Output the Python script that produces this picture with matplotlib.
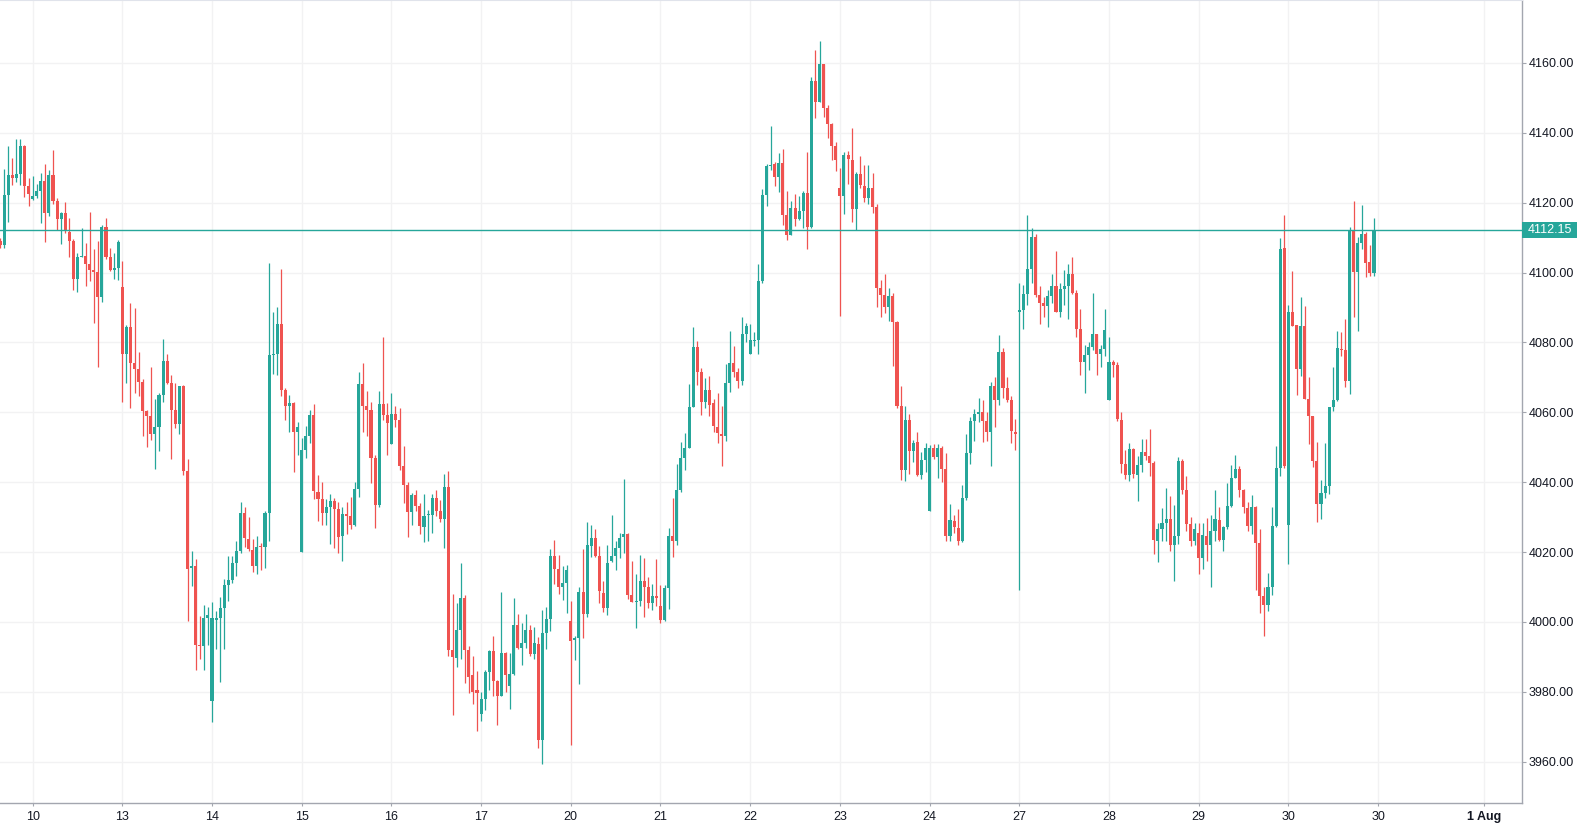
import matplotlib
matplotlib.use("Agg")
import matplotlib.pyplot as plt
import matplotlib.transforms as mtransforms
from matplotlib.patches import Rectangle
import numpy as np

# hourly candles, 22 per session
opens = [
    4109.0, 4108.0, 4122.2, 4127.9, 4127.2, 4128.2, 4136.2, 4124.8, 4121.0, 4121.9,
    4123.4, 4126.2, 4117.1, 4127.9, 4120.4, 4115.3, 4117.0, 4111.5, 4109.0, 4098.2,
    4104.5, 4104.8, 4102.4, 4100.7, 4100.1, 4093.1, 4113.0, 4104.4, 4100.8, 4101.3,
    4095.8, 4076.6, 4084.3, 4074.1, 4072.3, 4068.6, 4060.5, 4059.0, 4053.8, 4055.7,
    4064.9, 4074.6, 4068.4, 4060.6, 4056.7, 4067.4, 4043.2, 4015.4, 4015.9, 3993.3,
    3993.1, 4001.2, 3977.4, 4000.6, 4001.0, 4004.0, 4010.5, 4012.1, 4016.8, 4020.4,
    4031.3, 4023.8, 4020.7, 4015.9, 4021.7, 4021.6, 4031.1, 4076.3, 4076.6, 4085.2,
    4066.3, 4061.8, 4062.8, 4054.3, 4019.9, 4049.1, 4053.1, 4059.1, 4037.1, 4035.1,
    4031.1, 4033.0, 4034.5, 4032.2, 4024.5, 4031.0, 4030.2, 4027.9, 4038.2, 4068.0,
    4061.8, 4060.6, 4046.8, 4033.6, 4062.3, 4059.1, 4050.8, 4059.4, 4057.9, 4044.6,
    4039.1, 4031.4, 4036.2, 4033.1, 4027.1, 4030.5, 4030.5, 4035.4, 4031.7, 4029.4,
    4038.5, 3992.1, 3989.8, 3997.8, 4007.0, 3992.1, 3984.7, 3980.4, 3973.8, 3978.1,
    3985.8, 3991.7, 3983.1, 3978.9, 3991.2, 3981.8, 3985.0, 3999.2, 3992.7, 3994.1,
    3997.8, 3990.7, 3993.8, 3966.1, 3996.9, 4000.9, 4019.0, 4015.1, 4010.1, 4011.3,
    4000.4, 3994.9, 3995.3, 4008.7, 4002.2, 4021.7, 4023.9, 4019.0, 4008.4, 4003.9,
    4017.4, 4019.0, 4021.3, 4024.2, 4025.3, 4007.8, 4005.6, 4006.1, 4011.8, 4009.9,
    4005.3, 4007.3, 4004.7, 4000.5, 4009.8, 4024.7, 4023.1, 4037.9, 4046.8, 4049.7,
    4061.4, 4078.6, 4071.4, 4062.9, 4066.5, 4062.7, 4055.9, 4053.8, 4053.1, 4068.4,
    4074.1, 4071.5, 4068.9, 4082.3, 4076.6, 4080.4, 4080.6, 4097.6, 4122.1, 4130.5,
    4131.1, 4127.4, 4131.3, 4116.5, 4110.8, 4118.4, 4115.3, 4117.5, 4122.7, 4113.1,
    4154.8, 4148.9, 4159.7, 4147.0, 4142.5, 4136.2, 4124.1, 4121.8, 4133.6, 4132.2,
    4118.1, 4128.1, 4124.7, 4121.4, 4124.1, 4118.8, 4095.6, 4093.5, 4090.1, 4093.2,
    4085.8, 4061.7, 4043.4, 4057.9, 4048.9, 4051.6, 4042.0, 4046.3, 4031.9, 4049.7,
    4047.1, 4049.7, 4043.7, 4024.5, 4029.0, 4027.0, 4023.1, 4035.6, 4048.5, 4057.6,
    4059.6, 4060.0, 4057.6, 4054.3, 4067.4, 4063.5, 4077.4, 4067.1, 4063.5, 4054.5,
    4088.7, 4089.4, 4094.0, 4100.9, 4110.2, 4093.5, 4091.3, 4090.4, 4093.2, 4096.1,
    4088.7, 4095.2, 4096.1, 4099.5, 4094.1, 4083.8, 4074.4, 4076.3, 4078.6, 4082.3,
    4076.7, 4078.0, 4063.5, 4074.3, 4073.5, 4057.7, 4045.2, 4042.0, 4049.4, 4042.0,
    4044.9, 4048.6, 4047.4, 4045.4, 4023.1, 4026.5, 4028.2, 4029.4, 4021.9, 4024.5,
    4046.0, 4037.7, 4028.0, 4023.1, 4025.4, 4018.2, 4024.7, 4021.9, 4025.9, 4029.3,
    4023.6, 4027.3, 4033.1, 4041.1, 4043.7, 4037.7, 4032.5, 4027.4, 4032.8, 4022.6,
    4007.4, 4004.8, 4010.0, 4027.4, 4044.2, 4107.0, 4027.7, 4088.6, 4084.9, 4072.4,
    4084.6, 4063.7, 4058.9, 4046.0, 4033.7, 4036.8, 4038.8, 4061.4, 4063.4, 4078.0,
    4077.8, 4069.0, 4112.2, 4100.2, 4108.5, 4111.0, 4103.1, 4099.9,
]
highs = [
    4110.0, 4129.6, 4136.2, 4132.8, 4138.1, 4138.1, 4136.5, 4127.1, 4127.6, 4125.3,
    4128.5, 4131.0, 4129.3, 4135.1, 4121.3, 4117.4, 4120.2, 4115.6, 4109.5, 4105.6,
    4112.7, 4108.5, 4117.4, 4106.7, 4109.0, 4113.6, 4115.6, 4107.0, 4105.7, 4109.3,
    4103.3, 4084.9, 4091.2, 4089.8, 4077.4, 4069.5, 4060.8, 4073.0, 4063.7, 4065.4,
    4080.9, 4076.6, 4070.6, 4068.4, 4067.6, 4067.9, 4046.7, 4020.2, 4017.9, 4001.7,
    4004.8, 4004.3, 4005.7, 4003.2, 4007.2, 4012.2, 4019.0, 4019.0, 4023.3, 4034.2,
    4033.0, 4030.0, 4023.8, 4024.5, 4022.7, 4031.9, 4102.6, 4088.6, 4090.1, 4101.0,
    4067.1, 4065.1, 4063.1, 4057.3, 4052.7, 4056.0, 4060.8, 4062.3, 4042.2, 4040.2,
    4035.1, 4036.5, 4035.6, 4034.2, 4033.0, 4034.2, 4035.9, 4040.2, 4071.4, 4074.0,
    4066.0, 4063.1, 4047.9, 4066.0, 4081.5, 4062.8, 4065.4, 4061.9, 4061.1, 4050.5,
    4040.0, 4036.8, 4037.9, 4034.0, 4036.5, 4032.0, 4036.5, 4037.7, 4034.8, 4042.3,
    4043.3, 4008.1, 4005.5, 4016.8, 4007.6, 3993.0, 3990.4, 3986.1, 3980.1, 3986.4,
    3991.9, 3996.1, 3983.5, 4008.5, 3991.5, 3991.2, 4007.0, 4002.3, 3999.8, 4002.3,
    3999.0, 3998.7, 3995.6, 4003.3, 4004.2, 4021.0, 4023.6, 4019.3, 4016.1, 4016.4,
    4006.1, 3996.1, 4010.1, 4021.0, 4028.7, 4027.9, 4026.7, 4021.8, 4011.8, 4021.9,
    4030.7, 4023.3, 4025.6, 4040.8, 4025.6, 4017.4, 4013.6, 4019.3, 4018.4, 4013.0,
    4011.0, 4017.9, 4010.7, 4010.7, 4027.0, 4035.6, 4045.1, 4051.4, 4054.2, 4068.0,
    4084.3, 4080.3, 4072.6, 4069.7, 4070.3, 4063.7, 4065.6, 4061.7, 4073.7, 4083.4,
    4079.1, 4072.7, 4087.2, 4085.7, 4085.2, 4083.1, 4102.4, 4123.8, 4131.1, 4141.9,
    4131.7, 4134.1, 4135.4, 4123.3, 4120.4, 4122.5, 4121.9, 4123.3, 4134.4, 4155.9,
    4163.7, 4166.2, 4159.7, 4147.9, 4142.8, 4137.3, 4129.9, 4134.4, 4134.7, 4141.3,
    4128.7, 4133.3, 4130.7, 4130.7, 4128.4, 4119.5, 4097.8, 4099.5, 4095.5, 4094.1,
    4086.1, 4067.4, 4061.7, 4059.4, 4052.0, 4054.5, 4048.6, 4051.1, 4050.6, 4050.8,
    4050.8, 4050.5, 4048.3, 4033.7, 4030.5, 4032.2, 4039.1, 4053.7, 4058.8, 4060.9,
    4064.0, 4063.5, 4060.0, 4068.6, 4070.1, 4082.1, 4078.3, 4070.1, 4064.6, 4058.0,
    4096.9, 4096.3, 4116.4, 4112.7, 4110.9, 4096.1, 4093.0, 4095.1, 4099.5, 4106.1,
    4096.9, 4100.6, 4102.4, 4104.4, 4095.1, 4089.5, 4079.2, 4080.0, 4094.1, 4082.3,
    4079.4, 4089.5, 4081.5, 4074.9, 4074.3, 4060.2, 4049.2, 4051.1, 4049.7, 4047.4,
    4052.3, 4052.3, 4055.2, 4046.0, 4028.4, 4032.5, 4038.3, 4036.0, 4033.4, 4047.2,
    4046.6, 4041.7, 4030.0, 4028.2, 4028.2, 4028.2, 4029.8, 4030.5, 4037.9, 4032.8,
    4027.6, 4039.9, 4044.8, 4047.7, 4044.5, 4038.2, 4034.2, 4036.2, 4033.3, 4026.5,
    4010.1, 4013.9, 4032.9, 4050.5, 4109.9, 4116.5, 4090.6, 4100.5, 4084.9, 4092.9,
    4090.4, 4070.0, 4058.9, 4051.5, 4040.5, 4051.1, 4061.4, 4073.0, 4083.2, 4082.9,
    4086.7, 4113.1, 4120.4, 4110.2, 4119.3, 4111.6, 4107.8, 4115.6,
]
lows = [
    4107.0, 4107.1, 4114.5, 4125.1, 4125.9, 4125.1, 4121.6, 4119.1, 4120.7, 4121.2,
    4114.1, 4108.7, 4116.2, 4119.5, 4112.3, 4108.1, 4111.2, 4104.4, 4095.1, 4094.5,
    4104.5, 4096.1, 4097.6, 4085.6, 4073.0, 4091.7, 4104.0, 4100.5, 4098.2, 4098.0,
    4063.0, 4068.4, 4061.2, 4065.5, 4064.6, 4053.1, 4050.2, 4052.2, 4043.9, 4048.9,
    4063.0, 4068.0, 4046.7, 4055.4, 4053.9, 4042.1, 4000.2, 4010.3, 3986.4, 3989.5,
    3986.4, 3993.3, 3971.4, 3992.4, 3982.9, 3992.2, 4005.9, 4011.1, 4013.3, 4019.7,
    4021.6, 4020.2, 4014.4, 4013.6, 4015.0, 4015.4, 4023.3, 4070.9, 4070.6, 4064.7,
    4057.7, 4054.3, 4042.9, 4047.8, 4019.9, 4046.8, 4051.2, 4035.2, 4029.0, 4027.9,
    4027.9, 4022.2, 4021.1, 4019.7, 4017.4, 4025.3, 4026.5, 4027.5, 4035.9, 4054.3,
    4053.2, 4039.7, 4026.8, 4032.9, 4057.8, 4047.9, 4050.8, 4055.7, 4043.6, 4034.0,
    4024.2, 4027.7, 4031.9, 4025.1, 4022.8, 4023.1, 4025.4, 4030.2, 4028.5, 4021.1,
    3990.4, 3973.5, 3987.0, 3989.3, 3982.4, 3979.8, 3976.4, 3968.9, 3971.8, 3974.9,
    3980.4, 3978.9, 3970.4, 3978.7, 3980.1, 3975.2, 3984.9, 3992.4, 3987.8, 3992.7,
    3990.4, 3989.5, 3964.0, 3959.4, 3992.4, 3997.5, 4010.9, 4008.1, 4006.4, 4002.5,
    3964.8, 3989.2, 3982.3, 3995.3, 4001.3, 4018.5, 4018.5, 4005.3, 4002.8, 4001.9,
    4017.1, 4014.8, 4018.2, 4019.7, 4006.5, 4005.6, 3998.2, 4004.5, 4001.3, 4003.9,
    4003.3, 4004.5, 3999.6, 4000.2, 4003.6, 4018.5, 4021.9, 4037.1, 4043.6, 4049.7,
    4061.4, 4067.7, 4059.1, 4061.1, 4059.0, 4054.3, 4051.2, 4044.6, 4051.7, 4065.8,
    4070.1, 4066.9, 4067.9, 4080.1, 4076.6, 4079.1, 4076.6, 4097.0, 4119.1, 4129.3,
    4124.8, 4123.1, 4113.5, 4109.3, 4110.8, 4113.3, 4115.1, 4112.8, 4106.7, 4112.8,
    4144.3, 4148.9, 4144.5, 4138.5, 4132.2, 4129.1, 4087.5, 4116.8, 4125.3, 4114.5,
    4112.3, 4124.2, 4120.1, 4119.6, 4117.0, 4090.1, 4087.3, 4088.4, 4086.1, 4073.2,
    4061.2, 4040.5, 4040.3, 4042.3, 4045.7, 4041.7, 4040.8, 4042.9, 4031.9, 4046.6,
    4041.1, 4040.0, 4023.1, 4023.1, 4025.6, 4021.9, 4022.8, 4034.8, 4045.1, 4051.7,
    4057.1, 4051.4, 4051.7, 4044.6, 4055.9, 4062.0, 4064.2, 4062.9, 4051.2, 4049.1,
    4009.1, 4083.8, 4090.6, 4096.9, 4092.9, 4085.2, 4087.3, 4084.4, 4091.3, 4088.7,
    4087.3, 4090.7, 4086.7, 4093.8, 4081.5, 4070.7, 4065.5, 4072.1, 4077.7, 4070.7,
    4073.0, 4076.0, 4063.5, 4070.1, 4057.4, 4042.6, 4040.9, 4040.3, 4041.3, 4034.5,
    4042.9, 4046.3, 4041.7, 4019.4, 4017.1, 4023.1, 4023.1, 4020.2, 4011.7, 4022.2,
    4036.6, 4026.0, 4021.7, 4021.9, 4013.6, 4015.1, 4017.4, 4010.1, 4023.1, 4023.1,
    4020.4, 4026.5, 4032.8, 4041.1, 4035.7, 4031.2, 4025.9, 4025.1, 4009.1, 4002.5,
    3995.9, 4003.1, 4007.6, 4027.1, 4041.7, 4044.2, 4016.5, 4084.7, 4065.0, 4070.4,
    4063.7, 4050.9, 4044.3, 4028.6, 4029.4, 4035.4, 4036.6, 4060.4, 4063.2, 4076.0,
    4067.2, 4065.2, 4087.3, 4083.3, 4106.8, 4098.8, 4099.1, 4099.1,
]
closes = [
    4108.0, 4122.2, 4127.9, 4127.2, 4128.2, 4136.2, 4124.9, 4122.5, 4121.9, 4123.4,
    4126.2, 4117.1, 4127.9, 4120.4, 4115.3, 4117.0, 4112.0, 4109.0, 4098.2, 4104.4,
    4104.8, 4102.4, 4100.8, 4100.1, 4093.1, 4113.0, 4104.5, 4100.8, 4101.3, 4108.7,
    4076.6, 4084.3, 4074.1, 4072.3, 4068.6, 4060.5, 4059.0, 4053.8, 4055.7, 4064.9,
    4074.6, 4068.4, 4060.6, 4056.7, 4067.4, 4043.2, 4015.1, 4015.9, 3993.3, 3993.0,
    4001.2, 4001.9, 4001.0, 4001.0, 4004.0, 4010.7, 4012.1, 4016.8, 4020.2, 4031.3,
    4024.0, 4020.8, 4015.9, 4021.6, 4021.4, 4031.3, 4076.3, 4076.6, 4085.2, 4066.3,
    4061.8, 4062.8, 4054.3, 4055.7, 4049.1, 4053.1, 4059.1, 4037.4, 4035.1, 4031.3,
    4033.0, 4034.5, 4032.2, 4024.3, 4031.0, 4030.3, 4027.9, 4038.2, 4068.0, 4061.8,
    4060.7, 4046.9, 4033.6, 4062.3, 4059.2, 4056.9, 4059.4, 4057.9, 4044.6, 4039.1,
    4031.4, 4036.2, 4033.1, 4027.4, 4030.4, 4030.8, 4035.4, 4031.7, 4029.4, 4038.5,
    3992.1, 3990.1, 3997.8, 4007.0, 3992.1, 3984.4, 3980.1, 3979.8, 3978.1, 3985.8,
    3991.7, 3983.0, 3978.9, 3991.2, 3984.7, 3985.0, 3999.2, 3992.7, 3994.1, 3997.8,
    3990.7, 3994.1, 3966.1, 3996.9, 4000.9, 4019.0, 4015.1, 4009.9, 4011.3, 4015.0,
    3994.6, 3995.5, 4008.7, 4002.2, 4021.9, 4024.1, 4018.8, 4008.8, 4003.9, 4017.0,
    4019.0, 4021.3, 4024.1, 4025.3, 4007.8, 4005.6, 4006.1, 4011.8, 4009.9, 4005.3,
    4007.3, 4006.8, 4000.5, 4009.8, 4024.7, 4023.1, 4037.9, 4046.8, 4049.7, 4061.4,
    4078.6, 4071.4, 4062.9, 4066.5, 4062.0, 4056.0, 4054.0, 4053.1, 4068.4, 4074.2,
    4071.5, 4068.9, 4082.3, 4084.6, 4080.6, 4080.6, 4097.6, 4122.1, 4130.5, 4130.9,
    4127.4, 4131.3, 4116.5, 4110.8, 4118.4, 4115.3, 4117.5, 4122.7, 4113.1, 4154.8,
    4148.9, 4159.7, 4147.0, 4142.5, 4136.2, 4132.2, 4121.8, 4133.6, 4132.4, 4118.1,
    4128.1, 4125.1, 4121.4, 4124.1, 4118.8, 4095.6, 4093.5, 4090.1, 4093.2, 4085.8,
    4061.7, 4043.4, 4057.9, 4048.9, 4051.3, 4042.0, 4046.3, 4049.7, 4049.7, 4047.1,
    4049.7, 4043.7, 4024.5, 4029.3, 4027.1, 4023.1, 4035.6, 4048.5, 4057.4, 4059.6,
    4060.0, 4057.6, 4054.5, 4067.4, 4063.5, 4077.4, 4067.1, 4063.5, 4054.6, 4053.7,
    4089.4, 4094.0, 4100.9, 4110.1, 4093.5, 4091.3, 4090.4, 4093.2, 4096.1, 4088.7,
    4095.2, 4096.1, 4099.5, 4094.1, 4083.8, 4074.4, 4076.3, 4078.6, 4082.3, 4076.7,
    4078.0, 4083.5, 4074.3, 4073.5, 4058.0, 4045.2, 4042.0, 4049.4, 4042.3, 4044.9,
    4048.6, 4047.4, 4045.4, 4023.4, 4026.5, 4028.2, 4029.4, 4021.9, 4024.5, 4046.0,
    4037.7, 4028.0, 4023.1, 4026.5, 4018.2, 4024.8, 4021.9, 4025.9, 4029.6, 4023.6,
    4027.3, 4033.1, 4041.1, 4043.7, 4037.7, 4032.9, 4027.4, 4032.8, 4022.6, 4007.4,
    4004.8, 4010.0, 4027.4, 4044.0, 4106.7, 4044.5, 4088.6, 4084.7, 4072.4, 4084.6,
    4063.7, 4058.9, 4046.0, 4033.7, 4036.8, 4038.8, 4061.4, 4063.4, 4078.3, 4077.8,
    4069.0, 4112.2, 4100.2, 4108.5, 4111.0, 4102.8, 4099.9, 4112.15,
]

# session labels on the time axis (bar index of each label)
day_ticks = [8, 30, 52, 74, 96, 118, 140, 162, 184, 206, 228, 250, 272, 294, 316, 338, 364]
day_labels = ["10", "13", "14", "15", "16", "17", "20", "21", "22", "23", "24",
              "27", "28", "29", "30", "30", "1 Aug"]
price_ticks = [3960, 3980, 4000, 4020, 4040, 4060, 4080, 4100, 4120, 4140, 4160]
last_price = 4112.15

UP = "#26a69a"
DOWN = "#ef5350"
GRID = "#f2f2f3"
AXIS = "#a3a6af"
TEXT = "#131722"
W, H = 1578, 827

o = np.array(opens)
h = np.array(highs)
l = np.array(lows)
c = np.array(closes)
x = np.arange(len(o))
up = c >= o
colors = np.where(up, UP, DOWN)

fig = plt.figure(figsize=(W / 100, H / 100), dpi=100)
ax_bottom = (H - 803) / H
ax = fig.add_axes([0, ax_bottom, 1522 / W, 1 - ax_bottom])

ax.set_xlim(0, 373.3)
ax.set_ylim(3948.2, 4178.0)

# wicks then bodies
ax.vlines(x, l, h, colors=colors, linewidth=0.9, zorder=3)
body_lo = np.minimum(o, c)
body_h = np.maximum(np.abs(c - o), 0.3)
ax.bar(x, body_h, bottom=body_lo, width=0.75, color=colors, linewidth=0, zorder=4)

# last price line
ax.axhline(last_price, color=UP, linewidth=1.0, zorder=5)

ax.set_xticks(day_ticks)
ax.set_xticklabels(day_labels)
ax.get_xticklabels()[-1].set_fontweight("bold")
ax.set_yticks(price_ticks)
ax.set_yticklabels(["%.2f" % p for p in price_ticks])
ax.yaxis.tick_right()

ax.grid(True, color=GRID, linewidth=1.0, zorder=0)
ax.set_axisbelow(True)

ax.spines["left"].set_visible(False)
ax.spines["top"].set_color("#e0e3eb")
ax.spines["right"].set_color(AXIS)
ax.spines["bottom"].set_color(AXIS)
ax.spines["right"].set_linewidth(1.0)
ax.spines["bottom"].set_linewidth(1.0)

ax.tick_params(axis="y", length=3.2, width=0.8, color=AXIS, pad=1.5,
               labelsize=9, labelcolor=TEXT)
ax.tick_params(axis="x", length=2.5, width=0.8, color=AXIS, pad=3,
               labelsize=9, labelcolor=TEXT)
for lab in ax.get_xticklabels() + ax.get_yticklabels():
    lab.set_fontfamily("Liberation Sans")

# price label on the right scale
trans = mtransforms.blended_transform_factory(fig.transFigure, ax.transData)
box_h = 16 / 3.49
fig.add_artist(Rectangle((1522 / W, last_price - box_h / 2), 55 / W, box_h,
                         transform=trans, facecolor=UP, edgecolor="none",
                         clip_on=False, zorder=10))
fig.text(1549.5 / W, last_price, "%.2f" % last_price, transform=trans,
         ha="center", va="center", color="white", fontsize=9,
         fontfamily="Liberation Sans", zorder=11)

fig.savefig("out.png", dpi=100)
